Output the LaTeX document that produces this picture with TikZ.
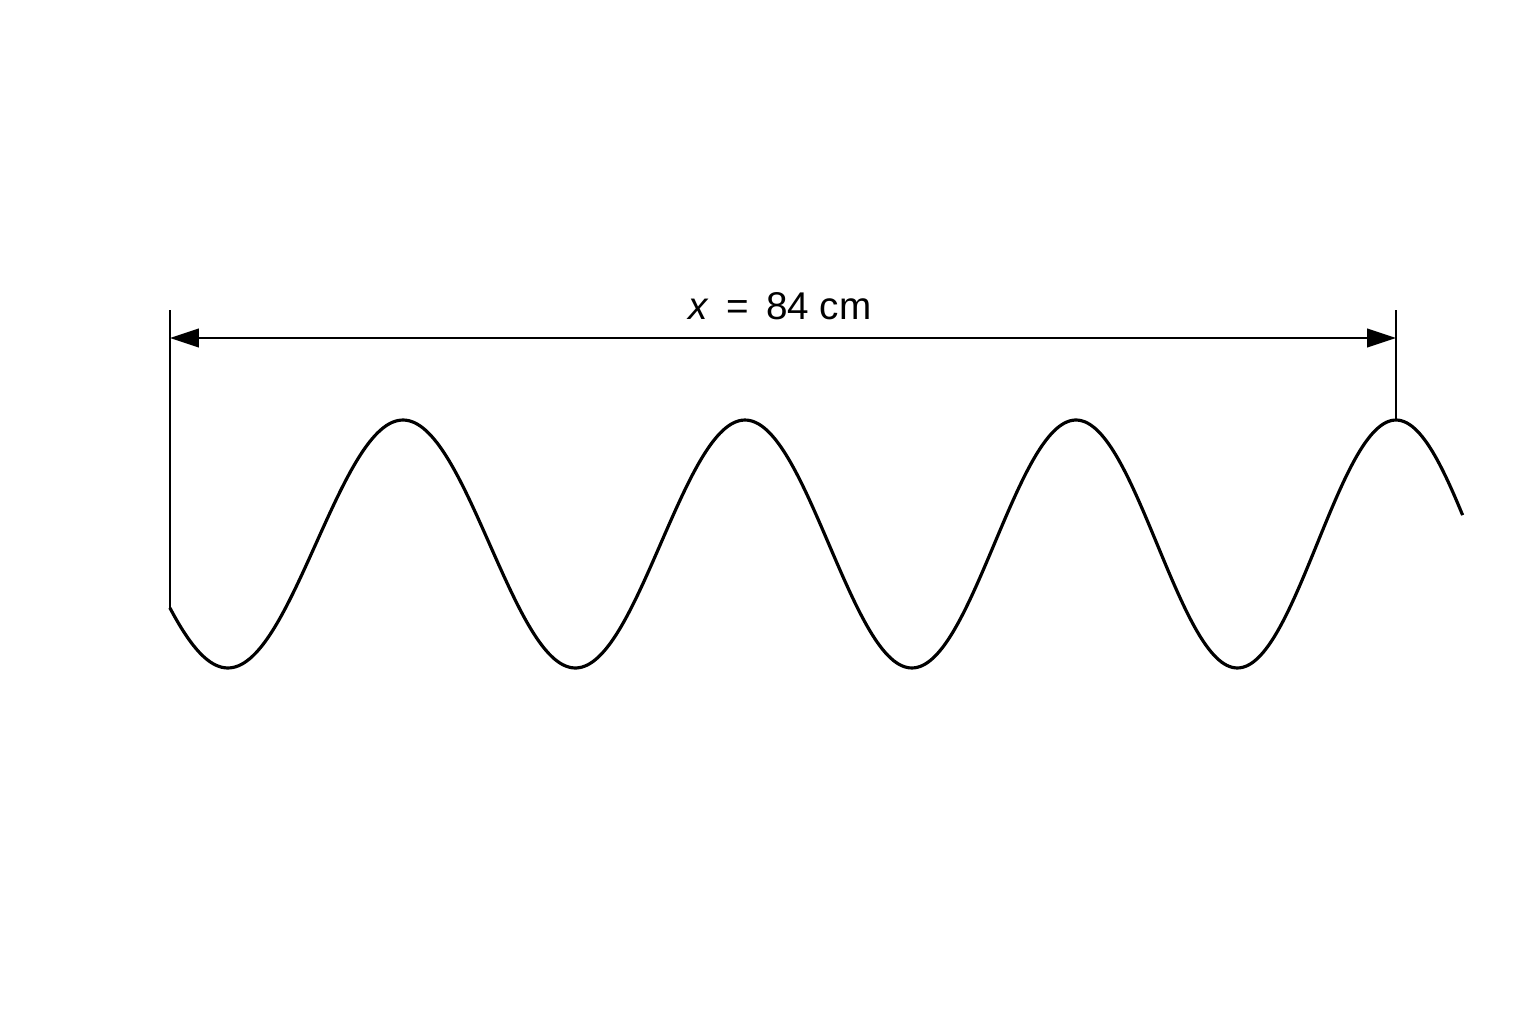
\documentclass[tikz,border=0pt]{standalone}
\usepackage{fontspec}
\setmainfont{Liberation Sans}
\usetikzlibrary{arrows.meta}

\begin{document}
\begin{tikzpicture}[x=0.02cm, y=-0.02cm,
    declare function={wx(\t)=403+347.5*\t-5.5*\t*\t; wy(\t)=544-124*cos(360*\t);},
    wave/.style={line width=1.8pt, line join=round},
    ext/.style={line width=1.5pt},
    dim/.style={line width=1.5pt, {Triangle[length=16.5pt,width=10.5pt]}-{Triangle[length=16.5pt,width=10.5pt]}}]
\useasboundingbox (0,0) rectangle (1536,1024);

% the wave, from its start to just past the last crest
\draw[wave] plot[domain=-0.664:3.215, samples=240, smooth, variable=\t] ({wx(\t)},{wy(\t)});
\coordinate (wstart) at ({wx(-0.664)},{wy(-0.664)});
\coordinate (wend)   at ({wx(3)},{wy(3)});

% extension lines
\coordinate (ltop) at (wstart |- 0,310);
\coordinate (rtop) at (wend |- 0,310);
\draw[ext] (wstart) -- (ltop);
\draw[ext] (wend) -- (rtop);

% the length between them
\coordinate (la) at (wstart |- 0,338);
\coordinate (ra) at (wend |- 0,338);
\draw[dim] (la) -- (ra);
\node (len) at (780,306) {\fontsize{22}{26}\selectfont\textit{x}\, =\, 84 cm};

\end{tikzpicture}
\end{document}
